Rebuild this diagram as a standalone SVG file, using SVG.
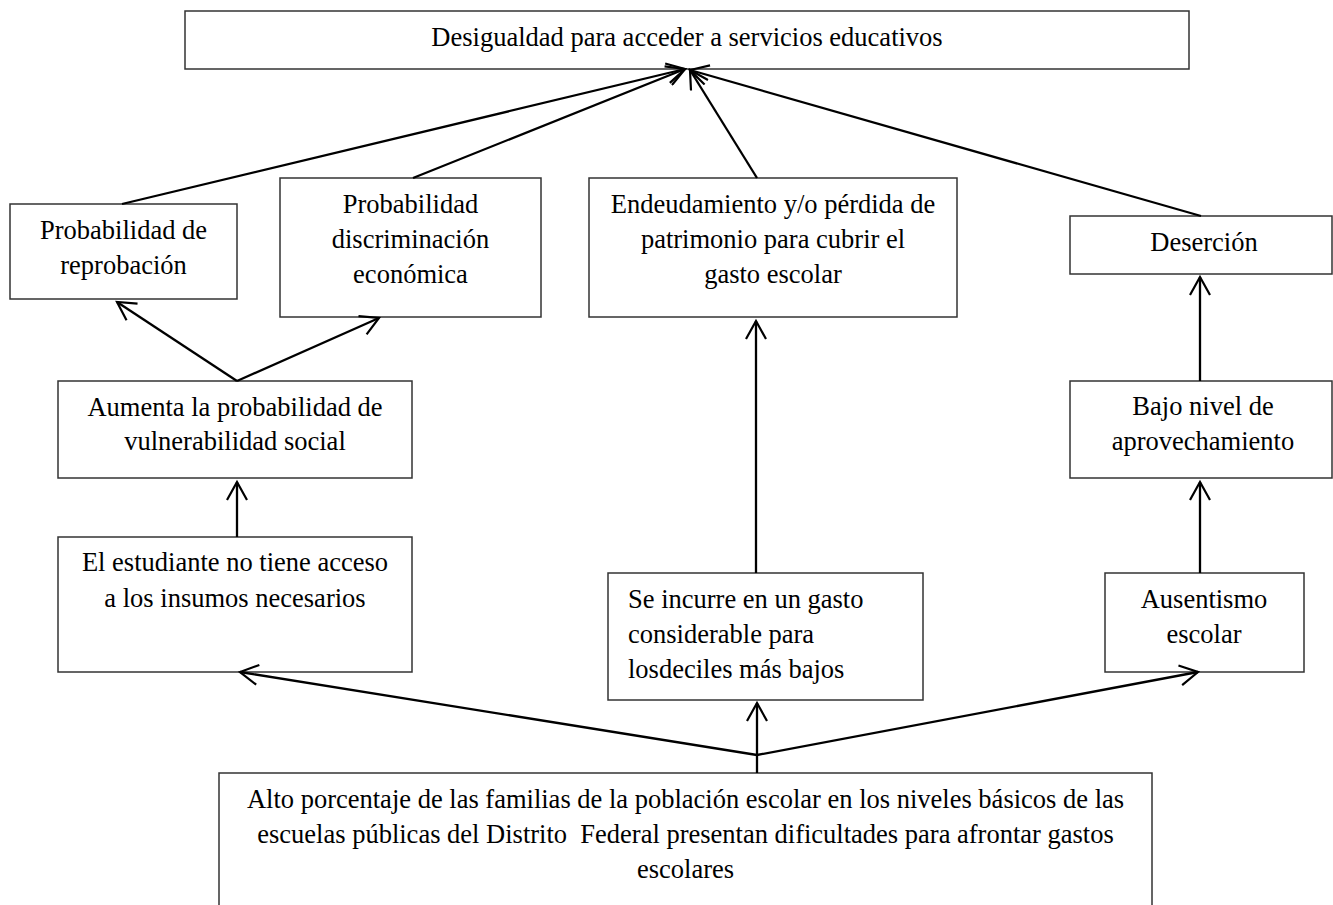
<svg xmlns="http://www.w3.org/2000/svg" width="1333" height="905" viewBox="0 0 1333 905">
<style>
.box{fill:#fff;stroke:#333;stroke-width:1.5}
.t{font-family:"Liberation Serif","Times New Roman",serif;font-size:26.5px;fill:#000}
.c{text-anchor:middle}
.ln{fill:none;stroke:#000;stroke-width:2.3;marker-end:url(#ah)}
</style>
<defs>
<marker id="ah" markerUnits="userSpaceOnUse" viewBox="0 0 22 22" refX="19" refY="11" markerWidth="22" markerHeight="22" orient="auto">
<path d="M1,1 L19,11 L1,21" fill="none" stroke="#000" stroke-width="2.2"/>
</marker>
</defs>
<g id="n-top"><rect class="box" x="185" y="11" width="1004" height="58"/><text class="t c" x="687" y="46">Desigualdad para acceder a servicios educativos</text></g>
<g id="n-reprob"><rect class="box" x="10" y="204" width="227" height="95"/><text class="t c" x="123.5" y="239">Probabilidad de</text><text class="t c" x="123.5" y="274">reprobación</text></g>
<g id="n-discrim"><rect class="box" x="280" y="178" width="261" height="139"/><text class="t c" x="410.5" y="213">Probabilidad</text><text class="t c" x="410.5" y="248">discriminación</text><text class="t c" x="410.5" y="283">económica</text></g>
<g id="n-endeud"><rect class="box" x="589" y="178" width="368" height="139"/><text class="t c" x="773" y="213">Endeudamiento y/o pérdida de</text><text class="t c" x="773" y="248">patrimonio para cubrir el</text><text class="t c" x="773" y="283">gasto escolar</text></g>
<g id="n-desercion"><rect class="box" x="1070" y="216" width="262" height="58"/><text class="t c" x="1204" y="251">Deserción</text></g>
<g id="n-aumenta"><rect class="box" x="58" y="381" width="354" height="97"/><text class="t c" x="235" y="416">Aumenta la probabilidad de</text><text class="t c" x="235" y="450">vulnerabilidad social</text></g>
<g id="n-bajo"><rect class="box" x="1070" y="381" width="262" height="97"/><text class="t c" x="1203" y="415">Bajo nivel de</text><text class="t c" x="1203" y="450">aprovechamiento</text></g>
<g id="n-estudiante"><rect class="box" x="58" y="537" width="354" height="135"/><text class="t c" x="235" y="571">El estudiante no tiene acceso</text><text class="t c" x="235" y="607">a los insumos necesarios</text></g>
<g id="n-incurre"><rect class="box" x="608" y="573" width="315" height="127"/><text class="t" x="628" y="608">Se incurre en un gasto</text><text class="t" x="628" y="643">considerable para</text><text class="t" x="628" y="678">losdeciles más bajos</text></g>
<g id="n-ausentismo"><rect class="box" x="1105" y="573" width="199" height="99"/><text class="t c" x="1204" y="608">Ausentismo</text><text class="t c" x="1204" y="643">escolar</text></g>
<g id="n-alto"><rect class="box" x="219" y="773" width="933" height="140"/><text class="t c" x="685.5" y="808">Alto porcentaje de las familias de la población escolar en los niveles básicos de las</text><text class="t c" x="685.5" y="843" xml:space="preserve">escuelas públicas del Distrito  Federal presentan dificultades para afrontar gastos</text><text class="t c" x="685.5" y="878">escolares</text></g>
<g id="connectors">
<line class="ln" x1="122" y1="204" x2="685" y2="69"/>
<line class="ln" x1="413" y1="178" x2="685" y2="69"/>
<line class="ln" x1="757" y1="178" x2="690" y2="70"/>
<line class="ln" x1="1201" y1="216" x2="690" y2="70"/>
<line class="ln" x1="237" y1="381" x2="117" y2="302"/>
<line class="ln" x1="237" y1="381" x2="379" y2="318"/>
<line class="ln" x1="237" y1="537" x2="237" y2="482"/>
<line class="ln" x1="756" y1="573" x2="756" y2="321"/>
<line class="ln" x1="1200" y1="381" x2="1200" y2="277"/>
<line class="ln" x1="1200" y1="573" x2="1200" y2="482"/>
<line class="ln" x1="757" y1="773" x2="757" y2="703"/>
<line class="ln" x1="757" y1="755" x2="240" y2="672"/>
<line class="ln" x1="757" y1="755" x2="1198" y2="672"/>
</g>
</svg>
